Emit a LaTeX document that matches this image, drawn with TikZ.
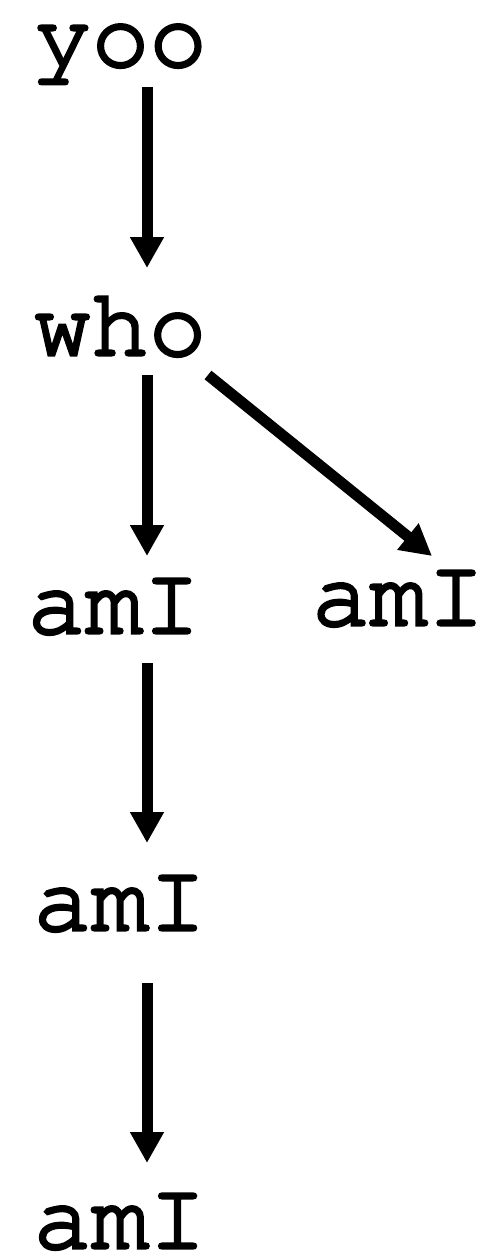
\documentclass[tikz,border=0pt]{standalone}
\usepackage[T1]{fontenc}
\usetikzlibrary{arrows.meta}
\newcommand\heavytext[1]{\special{pdf:literal direct 2 Tr 3.2 w}#1\special{pdf:literal direct 0 Tr 1 w}}
\tikzset{
  lbl/.style={inner sep=0pt, anchor=base, font=\fontfamily{pcr}\fontsize{96}{100}\selectfont},
  arr/.style={line width=11pt, -{Triangle[length=31pt,width=32pt]}}
}
\begin{document}
\begin{tikzpicture}[x=1pt,y=-1pt]
\useasboundingbox (0,0) rectangle (491,1260);
\node[lbl] (yoo) at (120.5,66) {\heavytext{yoo}};
\node[lbl] (who) at (120,355) {\heavytext{who}};
\node[lbl] (amA) at (114,633) {\heavytext{amI}};
\node[lbl] (amB) at (398.5,625) {\heavytext{amI}};
\node[lbl] (amC) at (120,930) {\heavytext{amI}};
\node[lbl] (amD) at (120,1248) {\heavytext{amI}};
\draw[arr] ([shift={(26.5,21)}]yoo.base) -- ([shift={(27,-87)}]who.base);
\draw[arr] ([shift={(27,20)}]who.base) -- ([shift={(33,-77)}]amA.base);
\draw[arr] ([shift={(88,20)}]who.base) -- ([shift={(33.5,-69)}]amB.base);
\draw[arr] ([shift={(33,30)}]amA.base) -- ([shift={(27,-87)}]amC.base);
\draw[arr] ([shift={(27,53)}]amC.base) -- ([shift={(27,-85)}]amD.base);
\end{tikzpicture}
\end{document}
